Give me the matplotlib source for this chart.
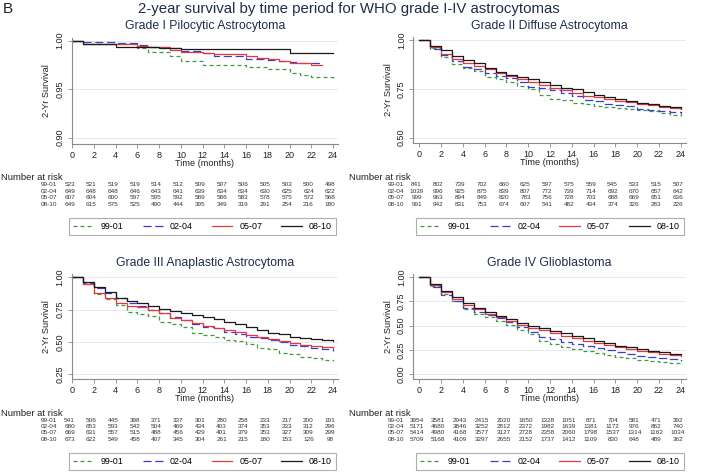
#=======================#
# Libraries importation #
#=======================#

import matplotlib
matplotlib.use("Agg")
import matplotlib.pyplot as plt
import matplotlib.transforms as mtransforms
from matplotlib.lines import Line2D

plt.rcParams['font.family'] = ['Liberation Sans', 'DejaVu Sans']

#======#
# Data #
#======#

PERIODS = ["99-01", "02-04", "05-07", "08-10"]
RISK_MONTHS = list(range(0, 25, 2))

# survival after the drop at month k (k = 0, 1, 2, ...)
G1_9901 = [1.000, 0.997, 0.997, 0.997, 0.997, 0.997, 0.992, 0.988, 0.988, 0.984, 0.979, 0.979, 0.975,
           0.975, 0.975, 0.975, 0.973, 0.973, 0.971, 0.971, 0.967, 0.965, 0.963, 0.963, 0.962]
G1_0204 = [1.000, 0.999, 0.999, 0.999, 0.998, 0.998, 0.996, 0.994, 0.994, 0.992, 0.989, 0.989, 0.987,
           0.984, 0.984, 0.984, 0.981, 0.981, 0.980, 0.979, 0.978, 0.977, 0.977, 0.976]
G1_0507 = [1.000, 0.997, 0.997, 0.997, 0.997, 0.997, 0.995, 0.994, 0.994, 0.990, 0.988, 0.988, 0.987,
           0.986, 0.986, 0.986, 0.984, 0.982, 0.981, 0.979, 0.977, 0.977, 0.975, 0.975]
G1_0810 = [1.000, 0.997, 0.997, 0.997, 0.993, 0.993, 0.993, 0.993, 0.992, 0.992, 0.991, 0.991, 0.991,
           0.991, 0.991, 0.991, 0.991, 0.991, 0.991, 0.991, 0.987, 0.987, 0.987, 0.987, 0.987]

G2_9901 = [1.000, 0.960, 0.912, 0.878, 0.858, 0.843, 0.810, 0.800, 0.787, 0.766, 0.749, 0.718, 0.700,
           0.693, 0.680, 0.672, 0.664, 0.658, 0.650, 0.645, 0.641, 0.635, 0.625, 0.618, 0.611]
G2_0204 = [1.000, 0.956, 0.925, 0.890, 0.864, 0.850, 0.832, 0.818, 0.807, 0.785, 0.762, 0.756, 0.744,
           0.728, 0.712, 0.694, 0.688, 0.672, 0.668, 0.660, 0.646, 0.640, 0.636, 0.632, 0.621]
G2_0507 = [1.000, 0.965, 0.930, 0.905, 0.880, 0.865, 0.850, 0.830, 0.815, 0.800, 0.785, 0.770, 0.755,
           0.745, 0.730, 0.715, 0.710, 0.700, 0.690, 0.685, 0.675, 0.665, 0.655, 0.650, 0.645]
G2_0810 = [1.000, 0.970, 0.949, 0.920, 0.898, 0.880, 0.855, 0.838, 0.820, 0.812, 0.800, 0.787, 0.772,
           0.756, 0.749, 0.735, 0.718, 0.708, 0.698, 0.690, 0.680, 0.674, 0.664, 0.658, 0.652]

G3_9901 = [1.000, 0.945, 0.870, 0.829, 0.785, 0.734, 0.716, 0.700, 0.656, 0.636, 0.617, 0.566, 0.555,
           0.540, 0.514, 0.505, 0.482, 0.452, 0.444, 0.412, 0.405, 0.380, 0.372, 0.362, 0.351]
G3_0204 = [1.000, 0.955, 0.915, 0.876, 0.842, 0.800, 0.778, 0.745, 0.720, 0.690, 0.665, 0.640, 0.615,
           0.605, 0.578, 0.560, 0.540, 0.530, 0.510, 0.495, 0.475, 0.465, 0.455, 0.441, 0.430]
G3_0507 = [1.000, 0.950, 0.881, 0.837, 0.798, 0.778, 0.768, 0.747, 0.721, 0.687, 0.669, 0.648, 0.622,
           0.610, 0.591, 0.575, 0.553, 0.535, 0.519, 0.505, 0.488, 0.472, 0.468, 0.462, 0.454]
G3_0810 = [1.000, 0.961, 0.928, 0.889, 0.842, 0.816, 0.800, 0.778, 0.755, 0.739, 0.723, 0.708, 0.695,
           0.674, 0.656, 0.638, 0.617, 0.591, 0.571, 0.558, 0.540, 0.530, 0.519, 0.514, 0.505]

G4_9901 = [1.000, 0.910, 0.825, 0.750, 0.669, 0.621, 0.585, 0.550, 0.507, 0.455, 0.414, 0.345, 0.310,
           0.283, 0.255, 0.240, 0.214, 0.200, 0.180, 0.165, 0.145, 0.135, 0.120, 0.110, 0.100]
G4_0204 = [1.000, 0.903, 0.817, 0.759, 0.679, 0.645, 0.615, 0.575, 0.535, 0.483, 0.438, 0.386, 0.359,
           0.330, 0.307, 0.290, 0.265, 0.248, 0.225, 0.210, 0.186, 0.178, 0.165, 0.155, 0.138]
G4_0507 = [1.000, 0.925, 0.845, 0.775, 0.715, 0.670, 0.625, 0.585, 0.545, 0.510, 0.475, 0.450, 0.420,
           0.395, 0.370, 0.345, 0.320, 0.300, 0.280, 0.260, 0.240, 0.225, 0.210, 0.200, 0.190]
G4_0810 = [1.000, 0.931, 0.859, 0.793, 0.731, 0.683, 0.638, 0.603, 0.566, 0.531, 0.497, 0.472, 0.448,
           0.421, 0.393, 0.369, 0.345, 0.317, 0.293, 0.275, 0.259, 0.240, 0.224, 0.210, 0.203]

# number at risk every 2 months
RISK_G1 = [[523, 521, 519, 519, 514, 512, 509, 507, 506, 505, 503, 500, 498],
           [649, 648, 648, 646, 643, 641, 639, 634, 634, 630, 625, 624, 622],
           [607, 604, 600, 597, 595, 592, 589, 586, 583, 578, 575, 572, 568],
           [649, 615, 575, 525, 490, 444, 395, 349, 319, 291, 254, 216, 180]]
RISK_G2 = [[841, 802, 739, 702, 660, 625, 597, 575, 559, 545, 533, 515, 507],
           [1039, 996, 925, 875, 839, 807, 772, 739, 714, 692, 670, 657, 642],
           [999, 963, 894, 849, 820, 783, 756, 728, 703, 688, 669, 651, 636],
           [991, 942, 831, 753, 674, 607, 541, 482, 434, 374, 326, 283, 226]]
RISK_G3 = [[541, 506, 445, 398, 371, 337, 301, 280, 258, 233, 217, 200, 191],
           [680, 653, 593, 542, 504, 469, 434, 403, 374, 353, 333, 312, 296],
           [669, 631, 557, 515, 488, 456, 429, 401, 379, 353, 327, 309, 299],
           [673, 622, 549, 458, 407, 345, 304, 261, 215, 180, 153, 126, 98]]
RISK_G4 = [[3954, 3581, 2943, 2415, 2020, 1650, 1328, 1051, 871, 704, 581, 471, 392],
           [5171, 4680, 3846, 3252, 2812, 2372, 1982, 1639, 1381, 1172, 976, 862, 740],
           [5414, 4980, 4168, 3577, 3127, 2728, 2358, 2060, 1798, 1537, 1314, 1162, 1034],
           [5709, 5168, 4109, 3297, 2655, 2152, 1737, 1412, 1109, 830, 648, 489, 362]]

#==================#
# Global variables #
#==================#

W, H = 701, 476
COLORS = ["#3f9a3f", "#3b3bd0", "#e23a3a", "#1a1a1a"]
STYLES = [(0, (3.2, 2.4)), (0, (6.5, 3.0)), "-", "-"]
TITLE_COLOR = "#1f2d4a"
AXIS_COLOR = "#8a8a8a"
GRID_COLOR = "#e4eaee"
LEGEND_H = 16.5


def fx(px):
    return px / W


def fy(py):
    return 1 - py / H


#=====================#
# Plotting one panel #
#=====================#

def plot_panel(fig, title, curves, risk, yticks, geo):
    """ Draws one survival panel with its risk table and legend.

        geo : (x0, x24, xleft, xright, ytop, ybot, axis_y, table_y, legend_y)
            pixel positions of tick 0, tick 24, spine ends, top/bottom y tick,
            x axis line, first risk row and legend top.
    """
    x0, x24, xleft, xright, ytop, ybot, axis_y, table_y, legend_y = geo
    vtop, vbot = yticks[-1], yticks[0]
    ppx = (x24 - x0) / 24.0
    ppy = (ybot - ytop) / (vtop - vbot)
    top_px = ytop - 3

    ax = fig.add_axes([fx(xleft), fy(axis_y), fx(xright) - fx(xleft), (axis_y - top_px) / H])
    ax.set_xlim(-(x0 - xleft) / ppx, 24 + (xright - x24) / ppx)
    ax.set_ylim(vbot - (axis_y - ybot) / ppy, vtop + 3 / ppy)

    for s, c, ls in zip(curves, COLORS, STYLES):
        ax.step(range(len(s)), s, where="post", color=c, linestyle=ls, linewidth=0.9)

    ax.set_xticks(range(0, 25, 2))
    ax.set_yticks(yticks)
    ax.set_yticklabels(["%.2f" % v for v in yticks], rotation=90, va="center")
    ax.grid(axis="y", color=GRID_COLOR, linewidth=0.7)
    ax.set_axisbelow(True)
    for side in ["top", "right"]:
        ax.spines[side].set_visible(False)
    for side in ["left", "bottom"]:
        ax.spines[side].set_color(AXIS_COLOR)
        ax.spines[side].set_linewidth(0.8)
    ax.tick_params(length=3, width=0.6, color=AXIS_COLOR, labelsize=6.5, pad=2, labelcolor="#222222")
    ax.set_xlabel("Time (months)", fontsize=6.6, labelpad=-1, color="#222222")
    ax.set_ylabel("2-Yr Survival", fontsize=6.6, labelpad=3, color="#222222")
    ax.set_title(title, fontsize=8.8, color=TITLE_COLOR, pad=6)

    # number at risk table
    trans = mtransforms.blended_transform_factory(ax.transData, fig.transFigure)
    for i, (period, row) in enumerate(zip(PERIODS, risk)):
        yy = fy(table_y + i * 6.4)
        fig.text(fx(x0 - 15), yy, period, fontsize=4.6, ha="right", va="center", color="#333333")
        for m, n in zip(RISK_MONTHS, row):
            ax.text(m - 0.25, yy, str(n), transform=trans, fontsize=4.6, ha="center", va="center",
                    color="#333333", clip_on=False)

    # legend
    handles = [Line2D([], [], color=c, linestyle=ls, linewidth=0.9) for c, ls in zip(COLORS, STYLES)]
    leg = ax.legend(handles, PERIODS, ncol=4, mode="expand", loc="upper left",
                    bbox_to_anchor=(fx(x0 - 3), fy(legend_y + LEGEND_H), fx(x24 + 3) - fx(x0 - 3), LEGEND_H / H),
                    bbox_transform=fig.transFigure, fontsize=6.4, frameon=True, fancybox=False,
                    handlelength=2.3, handletextpad=0.8, borderpad=0.45, borderaxespad=0)
    leg.get_frame().set_edgecolor("#9a9a9a")
    leg.get_frame().set_linewidth(0.8)
    return ax


#======#
# Main #
#======#

fig = plt.figure(figsize=(W / 100, H / 100), dpi=100)
fig.patch.set_facecolor("white")

fig.text(fx(3), fy(9), "B", fontsize=11, ha="left", va="center", color="#222222")
fig.text(fx(349), fy(9), "2-year survival by time period for WHO grade I-IV astrocytomas",
         fontsize=10.8, ha="center", va="center", color=TITLE_COLOR)

plot_panel(fig, "Grade I Pilocytic Astrocytoma", [G1_9901, G1_0204, G1_0507, G1_0810], RISK_G1,
           [0.90, 0.95, 1.00], (72.3, 333, 71.5, 338, 40.7, 137.7, 144, 185, 217.7))
plot_panel(fig, "Grade II Diffuse Astrocytoma", [G2_9901, G2_0204, G2_0507, G2_0810], RISK_G2,
           [0.50, 0.75, 1.00], (419.3, 680.7, 413, 686, 40, 137.7, 143, 185, 217.7))
plot_panel(fig, "Grade III Anaplastic Astrocytoma", [G3_9901, G3_0204, G3_0507, G3_0810], RISK_G3,
           [0.25, 0.50, 0.75, 1.00], (72.3, 333, 71.5, 338, 277.3, 374, 379.3, 420, 452.7))
plot_panel(fig, "Grade IV Glioblastoma", [G4_9901, G4_0204, G4_0507, G4_0810], RISK_G4,
           [0.00, 0.25, 0.50, 0.75, 1.00], (419.3, 680.7, 413, 686, 277.3, 374, 379.3, 420, 452.7))

for px, py in [(1, 178), (349, 178), (1, 413), (349, 413)]:
    fig.text(fx(px), fy(py), "Number at risk", fontsize=6.8, ha="left", va="center", color="#222222")

fig.savefig("out.png", dpi=100)
